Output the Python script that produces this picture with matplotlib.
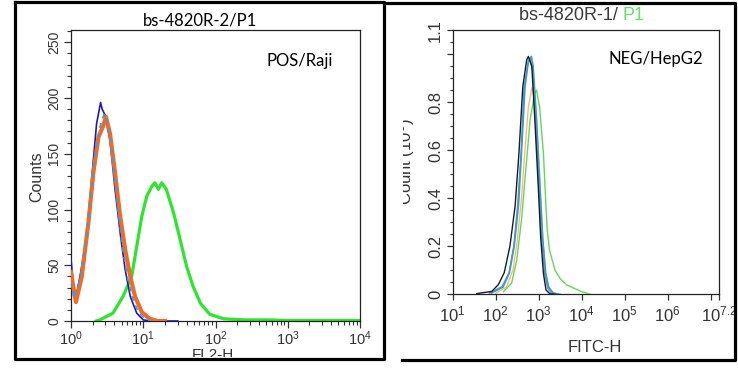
import numpy as np
import matplotlib
matplotlib.use("Agg")
import matplotlib.pyplot as plt
from matplotlib.lines import Line2D
from matplotlib.transforms import Bbox
from matplotlib.ticker import FixedLocator, NullFormatter

plt.rcParams['font.family'] = ['Liberation Sans', 'DejaVu Sans']
plt.rcParams['mathtext.fontset'] = 'custom'
plt.rcParams['mathtext.rm'] = 'Liberation Sans'
plt.rcParams['mathtext.it'] = 'Liberation Sans'

#%% data
# left panel: POS / Raji, FL2-H vs Counts
pos_blue_x = [1.00, 1.05, 1.13, 1.20, 1.35, 1.65, 1.93, 2.26, 2.57, 2.70, 2.95,
              3.47, 4.07, 4.79, 5.62, 6.61, 8.13, 10.0, 12.6, 30.0]
pos_blue_y = [56, 40, 19, 25, 42, 76, 127, 177, 196, 190, 185,
              162, 118, 79, 46, 22, 7, 1, 0, 0]

pos_ltblue_x = [1.00, 1.10, 1.30, 1.60, 1.90, 2.20, 2.60, 2.90, 3.30, 3.80, 4.40,
                5.10, 6.00, 7.00, 8.50, 10.5, 13.0]
pos_ltblue_y = [35, 20, 35, 70, 115, 155, 178, 186, 175, 145, 105,
                68, 40, 22, 8, 2, 0]

pos_orange_x = [1.00, 1.08, 1.17, 1.25, 1.41, 1.74, 2.04, 2.40, 2.75, 3.05, 3.47,
                4.07, 4.79, 5.62, 6.61, 7.69, 9.55, 12.3, 15.8, 20.0]
pos_orange_y = [44, 30, 17, 25, 40, 88, 133, 165, 174, 183, 168,
                133, 94, 64, 40, 22, 8, 2, 0, 0]

pos_green_x = [2.24, 2.51, 3.80, 5.25, 6.92, 8.13, 9.55, 11.2, 13.2, 14.5, 16.2,
               18.0, 20.9, 26.3, 32.4, 39.8, 49.0, 61.7, 83.2, 129, 251, 500,
               1000, 10000]
pos_green_y = [0, 1, 7, 22, 40, 67, 94, 112, 121, 124, 118,
               124, 118, 97, 73, 49, 31, 16, 6, 2, 1, 1,
               0.5, 0.5]

# right panel: NEG / HepG2, FITC-H vs Count (10^3)
neg_black_x = [36, 81, 115, 158, 214, 282, 347, 427, 525, 575, 631, 692, 813,
               977, 1109, 1288, 1479, 1820, 2512]
neg_black_y = [0.003, 0.012, 0.04, 0.09, 0.20, 0.365, 0.587, 0.865, 0.975, 0.99,
               0.97, 0.948, 0.726, 0.448, 0.24, 0.087, 0.018, 0.002, 0]

neg_steel_x = [71, 141, 204, 263, 324, 389, 457, 562, 631, 724, 851, 1023,
               1175, 1380, 1622, 1995, 2818]
neg_steel_y = [0.005, 0.032, 0.09, 0.20, 0.37, 0.59, 0.86, 0.96, 0.98, 0.93,
               0.72, 0.44, 0.23, 0.085, 0.025, 0.004, 0]

neg_teal_x = [79, 148, 209, 269, 339, 398, 479, 575, 676, 741, 891, 1072,
              1230, 1445, 1698, 2188, 3162]
neg_teal_y = [0.005, 0.03, 0.09, 0.20, 0.37, 0.59, 0.86, 0.97, 0.99, 0.95,
              0.73, 0.448, 0.24, 0.09, 0.03, 0.005, 0]

neg_orange_x = [100, 178, 251, 316, 398, 479, 575, 692, 794, 933, 1096, 1259,
                1479, 1778, 2512]
neg_orange_y = [0.005, 0.03, 0.10, 0.22, 0.40, 0.60, 0.78, 0.86, 0.82, 0.65,
                0.42, 0.22, 0.08, 0.02, 0]

neg_green_x = [151, 234, 309, 398, 501, 631, 794, 891, 1047, 1288, 1479, 1585,
               1778, 2399, 3162, 4467, 10000, 15849]
neg_green_y = [0.011, 0.046, 0.143, 0.31, 0.518, 0.726, 0.83, 0.85, 0.78, 0.587,
               0.36, 0.268, 0.185, 0.10, 0.065, 0.039, 0.011, 0]

#%% figure
W, H = 738, 371
fig = plt.figure(figsize=(W / 100, H / 100), dpi=100)


def px(x0, y0, x1, y1):
    # pixel box (top-left origin) -> figure fraction [l, b, w, h]
    return [x0 / W, 1 - y1 / H, (x1 - x0) / W, (y1 - y0) / H]


tick_col = '#333333'

# ---- left panel
ax1 = fig.add_axes(px(71, 30, 360, 321))
ax1.plot(pos_green_x, pos_green_y, color='#2ee52e', lw=2.3, zorder=2)
ax1.plot(pos_blue_x, pos_blue_y, color='#1c1cb4', lw=1.2, zorder=3)
ax1.plot(pos_orange_x, pos_orange_y, color='#f26b26', lw=3.0, zorder=4)
ax1.plot(pos_ltblue_x, pos_ltblue_y, color='#3c9be0', lw=1.2, ls=(0, (3, 3)), zorder=5)
ax1.set_xscale('log')
ax1.set_xlim(1, 1e4)
ax1.set_ylim(0, 261)
ax1.set_xticks([1, 10, 100, 1000, 10000])
ax1.set_xticklabels(['$10^{0}$', '$10^{1}$', '$10^{2}$', '$10^{3}$', '$10^{4}$'])
ax1.set_yticks([0, 50, 100, 150, 200, 250])
ax1.set_yticklabels(['0', '50', '100', '150', '200', '250'], rotation=90, va='center')
ax1.yaxis.set_minor_locator(FixedLocator(np.arange(0, 261, 10)))
ax1.tick_params(which='major', direction='out', length=5, width=0.9, colors=tick_col,
                labelsize=10.5, pad=1)
ax1.tick_params(axis='y', which='major', labelsize=10, pad=2)
ax1.tick_params(which='minor', direction='out', length=3, width=0.8, colors=tick_col)
ax1.xaxis.set_minor_formatter(NullFormatter())
for s in ax1.spines.values():
    s.set_color('#222222')
    s.set_linewidth(0.9)
fig.text(37 / W, 1 - 177 / H, 'Counts', rotation=90, ha='center', va='center',
         fontsize=11.5, color=tick_col)
t = fig.text(213 / W, 1 - 348 / H, 'FL2-H', ha='center', va='top', fontsize=11,
             color=tick_col)
t.set_clip_box(Bbox.from_extents(0, H - 357, W, H))
t.set_clip_on(True)
fig.text(200 / W, 1 - 21 / H, 'bs-4820R-2/P1', ha='center', va='center',
         fontsize=12, family='Lato', color='black')
fig.text(300 / W, 1 - 61 / H, 'POS/Raji', ha='center', va='center',
         fontsize=12, family='Lato', color='black')

# ---- right panel
ax2 = fig.add_axes(px(452.7, 30, 719.3, 294.3))
ax2.plot(neg_orange_x, neg_orange_y, color='#f2b47e', lw=0.9, zorder=2)
ax2.plot(neg_green_x, neg_green_y, color='#66d856', lw=1.0, zorder=3)
ax2.plot(neg_steel_x, neg_steel_y, color='#5a8fc8', lw=1.0, zorder=4)
ax2.plot(neg_teal_x, neg_teal_y, color='#3f9cc0', lw=1.2, zorder=5)
ax2.plot(neg_black_x, neg_black_y, color='#1a1a28', lw=1.0, zorder=6)
ax2.set_xscale('log')
ax2.set_xlim(10, 10 ** 7.2)
ax2.set_ylim(0, 1.1)
ax2.set_xticks([1e1, 1e2, 1e3, 1e4, 1e5, 1e6, 1e7, 10 ** 7.2])
ax2.set_xticklabels(['$10^{1}$', '$10^{2}$', '$10^{3}$', '$10^{4}$', '$10^{5}$',
                     '$10^{6}$', '', '$10^{7.2}$'])
ax2.set_yticks([0, 0.2, 0.4, 0.6, 0.8, 1.0, 1.1])
ax2.set_yticklabels(['0', '0.2', '0.4', '0.6', '0.8', '', '1.1'], rotation=90, va='center')
ax2.yaxis.set_minor_locator(FixedLocator(np.arange(0, 1.11, 0.05)))
ax2.tick_params(which='major', direction='out', length=4, width=0.9, colors=tick_col,
                labelsize=12, pad=3)
ax2.tick_params(which='minor', direction='out', length=2.5, width=0.8, colors=tick_col)
ax2.xaxis.set_minor_formatter(NullFormatter())
for s in ax2.spines.values():
    s.set_color('#222222')
    s.set_linewidth(0.9)
t = fig.text(417 / W, 1 - 162 / H, 'Count (10$^{3}$)', rotation=90, ha='right',
             va='center', fontsize=12, color=tick_col)
t.set_clip_box(Bbox.from_extents(403, 0, W, H))
t.set_clip_on(True)
fig.text(595 / W, 1 - 347 / H, 'FITC-H', ha='center', va='center', fontsize=12,
         color=tick_col)
fig.text(623 / W, 1 - 16 / H, 'bs-4820R-1/ ', ha='right', va='center',
         fontsize=13, color='#3a3a3a')
fig.text(623 / W, 1 - 16 / H, 'P1', ha='left', va='center', fontsize=13,
         color='#66dd66')
fig.text(656 / W, 1 - 59 / H, 'NEG/HepG2', ha='center', va='center',
         fontsize=12, family='Lato', color='black')

# ---- black frames around the two panels
def frame(xs, ys):
    fig.add_artist(Line2D([x / W for x in xs], [1 - y / H for y in ys],
                          color='black', lw=2.3, transform=fig.transFigure,
                          solid_capstyle='projecting'))


frame([15, 15, 384, 384, 15], [1.5, 358.5, 358.5, 1.5, 1.5])
frame([384, 735, 735, 402], [3, 3, 359.5, 359.5])

fig.savefig('out.png', dpi=100, facecolor='white')
